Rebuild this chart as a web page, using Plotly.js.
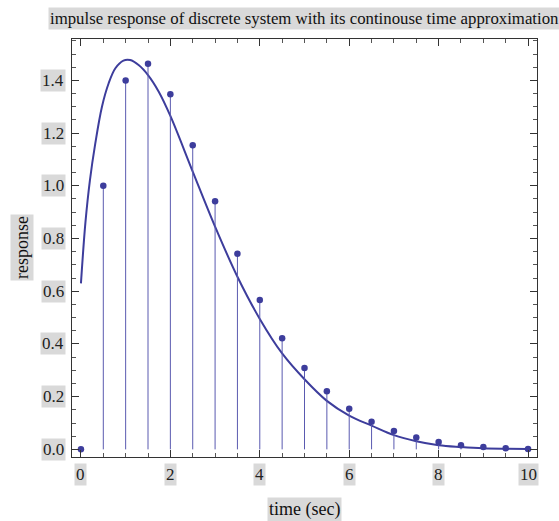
<!DOCTYPE html>
<html>
<head>
<meta charset="utf-8">
<script src="https://cdn.plot.ly/plotly-3.0.1.min.js"></script>
<style>html,body{margin:0;padding:0;background:#fff;}#chart{width:559px;height:521px;}</style>
</head>
<body>
<div id="chart"></div>
<script>
// Discrete samples (stems)
const sampleTimes = [0,0.5,1,1.5,2,2.5,3,3.5,4,4.5,5,5.5,6,6.5,7,7.5,8,8.5,9,9.5,10];
const sampleValues = [0,1.0,1.40,1.463,1.347,1.154,0.941,0.742,0.567,0.422,0.309,0.220,0.154,0.105,0.070,0.045,0.028,0.016,0.009,0.004,0.001];

// Continuous-time approximation
const curveTimes = [0,0.1,0.2,0.32,0.47,0.62,0.77,0.95,1.1,1.29,1.5,1.74,2,2.5,3,3.5,4,4.5,5,5.5,6,6.5,7,7.5,8,8.5,9,9.5,10];
const curveValues = [0.63,0.86,1.02,1.16,1.30,1.389,1.446,1.475,1.477,1.458,1.42,1.357,1.265,1.054,0.845,0.655,0.495,0.364,0.266,0.184,0.128,0.090,0.054,0.031,0.016,0.009,0.004,0.002,0.001];

const xTickVals = [0,2,4,6,8,10];
const xTickText = ["0","2","4","6","8","10"];
const yTickVals = [0,0.2,0.4,0.6,0.8,1.0,1.2,1.4];
const yTickText = ["0.0","0.2","0.4","0.6","0.8","1.0","1.2","1.4"];

const titleText = "impulse response of discrete system with its continouse time approximation";
const xTitle = "time (sec)";
const yTitle = "response";

const FONT = "Liberation Serif, Times New Roman, serif";
const LBG = "#d9d9d9";
const mainColor = "#3d3d9c";

const traces = [
  {
    x: curveTimes, y: curveValues, type: "scatter", mode: "lines",
    line: {color: mainColor, width: 2, shape: "spline", smoothing: 1},
    hoverinfo: "skip"
  },
  {
    x: sampleTimes, y: sampleValues, type: "scatter", mode: "markers",
    marker: {color: mainColor, size: 6.5},
    error_y: {type: "data", symmetric: false, array: sampleValues.map(() => 0),
              arrayminus: sampleValues, width: 0, thickness: 1, color: "#5a5ab0"},
    cliponaxis: false
  }
];

const annotations = [];
xTickVals.forEach((v, i) => annotations.push({
  x: v, xref: "x", y: 0, yref: "paper", yanchor: "top", xanchor: "center", yshift: -6,
  text: xTickText[i], showarrow: false, bgcolor: LBG, borderpad: 1,
  font: {family: FONT, size: 17, color: "#222"}
}));
yTickVals.forEach((v, i) => annotations.push({
  x: 0, xref: "paper", y: v, yref: "y", xanchor: "right", yanchor: "middle", xshift: -6,
  text: yTickText[i], showarrow: false, bgcolor: LBG, borderpad: 1,
  font: {family: FONT, size: 17, color: "#222"}
}));
annotations.push({
  x: 0.5, xref: "paper", y: 1, yref: "paper", xanchor: "center", yanchor: "bottom", yshift: 9,
  text: titleText, showarrow: false, bgcolor: LBG, borderpad: 1,
  font: {family: FONT, size: 16.8, color: "#111"}
});
annotations.push({
  x: 0.5, xref: "paper", y: 0, yref: "paper", xanchor: "center", yanchor: "top", yshift: -40,
  text: xTitle, showarrow: false, bgcolor: LBG, borderpad: 1,
  font: {family: FONT, size: 18, color: "#111"}
});
annotations.push({
  x: 0, xref: "paper", y: 0.5, yref: "paper", xanchor: "right", yanchor: "middle", xshift: -38,
  text: yTitle, textangle: -90, showarrow: false, bgcolor: LBG, borderpad: 1,
  font: {family: FONT, size: 18, color: "#111"}
});

const layout = {
  width: 559, height: 521,
  margin: {l: 72, r: 22, t: 39, b: 64, pad: 0},
  paper_bgcolor: "#fff", plot_bgcolor: "#fff",
  showlegend: false,
  xaxis: {
    range: [-0.2, 10.2], showgrid: false, zeroline: false,
    showline: true, linecolor: "#333", linewidth: 1, mirror: "ticks",
    ticks: "inside", tickvals: xTickVals, ticklen: 7, tickcolor: "#333", showticklabels: false,
    minor: {dtick: 0.5, tick0: 0, ticks: "inside", ticklen: 4, tickcolor: "#555", showgrid: false}
  },
  yaxis: {
    range: [-0.029, 1.557], showgrid: false, zeroline: false,
    showline: true, linecolor: "#333", linewidth: 1, mirror: "ticks",
    ticks: "inside", tickvals: yTickVals, ticklen: 7, tickcolor: "#333", showticklabels: false,
    minor: {dtick: 0.05, tick0: 0, ticks: "inside", ticklen: 4, tickcolor: "#555", showgrid: false}
  },
  annotations: annotations
};

Plotly.newPlot("chart", traces, layout, {displayModeBar: false, staticPlot: true});
</script>
</body>
</html>
